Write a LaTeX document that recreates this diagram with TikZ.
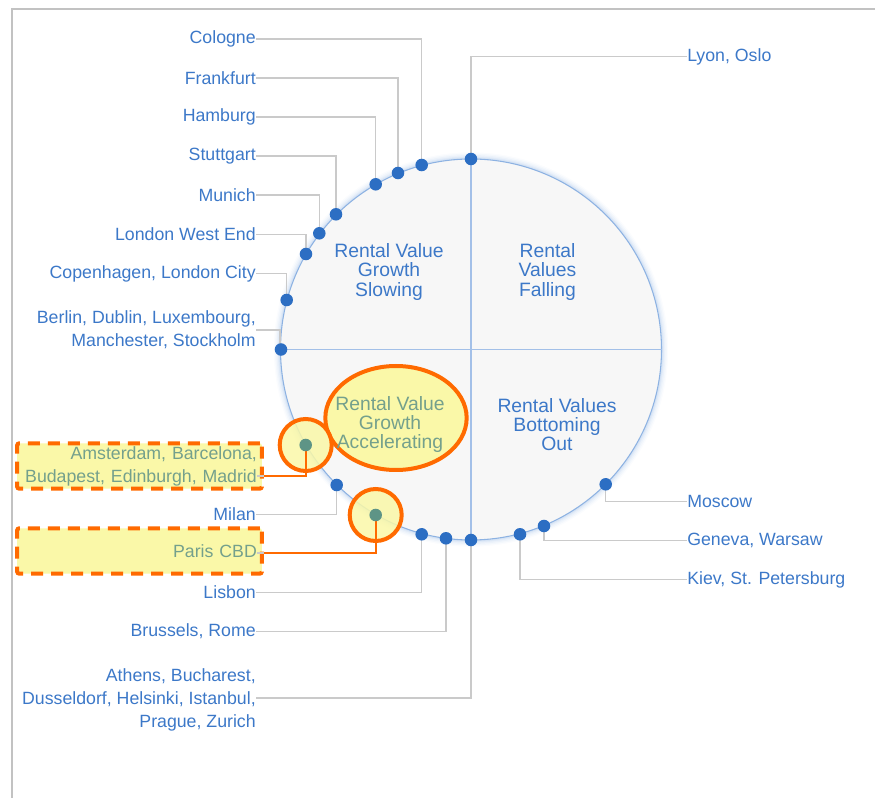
\documentclass[tikz,border=0pt]{standalone}
\usepackage{fontspec}
\setmainfont{Liberation Sans}
\usetikzlibrary{calc,shapes.geometric}
\definecolor{txtblue}{HTML}{3C78C8}
\definecolor{dotblue}{HTML}{2C6EC3}
\definecolor{rimblue}{HTML}{8DB2E2}
\definecolor{crossblue}{HTML}{A3C0E8}
\definecolor{conngray}{HTML}{CACACA}
\definecolor{framegray}{HTML}{C2C2C2}
\definecolor{hlorange}{HTML}{FF6A00}
\definecolor{hlyellow}{HTML}{FAF8A8}
\definecolor{hltext}{HTML}{74A08C}
\definecolor{hldot}{HTML}{5E9486}
\definecolor{discfill}{HTML}{F7F7F7}
\begin{document}
\begin{tikzpicture}[x=0.75pt,y=-0.75pt,
  citylabel/.style={font=\fontsize{13.3}{17.2}\selectfont, text=txtblue, inner sep=0pt, align=right},
  quadlabel/.style={font=\fontsize{14.5}{14.4}\selectfont, text=txtblue, inner sep=0pt, align=center},
  hlbox/.style={draw=hlorange, fill=hlyellow, line width=3pt, dash pattern=on 9pt off 6pt, rounded corners=1.5pt,
    text width=176pt, inner xsep=3.75pt, inner ysep=0pt, minimum height=34pt, align=right,
    font=\fontsize{13.3}{17.2}\selectfont, text=hltext},
  conn/.style={draw=conngray, line width=1.1pt},
  hlconn/.style={draw=hlorange, line width=1.6pt},
  hlring/.style={draw=hlorange, fill=hlyellow, fill opacity=0.85, line width=3pt},
  dotmark/.style={fill=dotblue},
  hldotmark/.style={fill=hldot}]
\useasboundingbox (0,0) rectangle (875,798);
% frame
\draw[framegray, line width=1.5pt] (12,798) -- (12,9.5) -- (875,9.5);
% disc with glow
\coordinate (c) at (471,349.5);
\foreach \w/\o in {10/0.04,8/0.06,6/0.08,4/0.10,2.5/0.14}
  \draw[rimblue, opacity=\o, line width=\w pt] (c) circle[radius=142.875pt];
\draw[rimblue, fill=discfill, line width=0.8pt] (c) circle[radius=142.875pt];
\coordinate (ctop) at (471,159);
\coordinate (cbot) at (471,540);
\coordinate (cleft) at (280.5,349.5);
\coordinate (cright) at (661.5,349.5);
\draw[crossblue, line width=0.8pt] (ctop) -- (cbot);
\draw[crossblue, line width=0.8pt] (cleft) -- (cright);
% quadrant labels
\node[quadlabel] (qSlow) at (389,272) {Rental Value\\Growth\\Slowing};
\node[quadlabel] (qFall) at (547.5,272) {Rental\\Values\\Falling};
\node[quadlabel] (qBot) at (557,424.5) {Rental Values\\Bottoming\\Out};
\node[draw=hlorange, fill=hlyellow, line width=3pt, ellipse, minimum width=106pt, minimum height=78pt, inner sep=0pt] (qEll) at (396,418) {};
\node[quadlabel, text=hltext] (qAcc) at (390,424.5) {Rental Value\\Growth\\Accelerating};
% dot positions
\coordinate (dLyon) at (471,159);
\coordinate (dCologne) at (421.7,165);
\coordinate (dFrankfurt) at (398,173);
\coordinate (dHamburg) at (375.7,184.3);
\coordinate (dStuttgart) at (336,214.3);
\coordinate (dMunich) at (319.3,233.3);
\coordinate (dLWE) at (306,254);
\coordinate (dCopen) at (286.7,300);
\coordinate (dBerlin) at (281,349.5);
\coordinate (dAms) at (305.7,445);
\coordinate (dMilan) at (336.7,485);
\coordinate (dParis) at (375.7,515);
\coordinate (dLisbon) at (421.7,534.3);
\coordinate (dBrussels) at (446,538.3);
\coordinate (dAthens) at (471,540);
\coordinate (dKiev) at (520,534.3);
\coordinate (dGeneva) at (544,526);
\coordinate (dMoscow) at (605.7,484.3);
% labels
\node[citylabel, anchor=west] (lLyon) at (687,56.5) {Lyon, Oslo};
\node[citylabel, anchor=east] (lCologne) at (256,39) {Cologne};
\node[citylabel, anchor=east] (lFrankfurt) at (256,78) {Frankfurt};
\node[citylabel, anchor=east] (lHamburg) at (256,117) {Hamburg};
\node[citylabel, anchor=east] (lStuttgart) at (256,156) {Stuttgart};
\node[citylabel, anchor=east] (lMunich) at (256,195) {Munich};
\node[citylabel, anchor=east] (lLWE) at (256,234.5) {London West End};
\node[citylabel, anchor=east] (lCopen) at (256,273.5) {Copenhagen, London City};
\node[citylabel, anchor=east] (lBerlin) at (256,330) {Berlin, Dublin, Luxembourg,\\Manchester, Stockholm};
\node[hlbox] (lAms) at (139.5,466) {Amsterdam, Barcelona,\\Budapest, Edinburgh, Madrid};
\node[citylabel, anchor=east] (lMilan) at (256,514.5) {Milan};
\node[hlbox] (lParis) at (139.5,551) {Paris CBD};
\node[citylabel, anchor=east] (lLisbon) at (256,592.5) {Lisbon};
\node[citylabel, anchor=east] (lBrussels) at (256,631.5) {Brussels, Rome};
\node[citylabel, anchor=east] (lAthens) at (256,700) {Athens, Bucharest,\\Dusseldorf, Helsinki, Istanbul,\\Prague, Zurich};
\node[citylabel, anchor=west] (lMoscow) at (687,501.5) {Moscow};
\node[citylabel, anchor=west] (lGeneva) at (687,540.5) {Geneva, Warsaw};
\node[citylabel, anchor=west] (lKiev) at (687,579.5) {Kiev, St. Petersburg};
% highlight rings
\draw[hlring] (dAms) circle[radius=19.5pt];
\draw[hlring] (dParis) circle[radius=19.5pt];
% connectors
\draw[conn] (dLyon) |- (lLyon.west);
\draw[conn] (dCologne) |- (lCologne.east);
\draw[conn] (dFrankfurt) |- (lFrankfurt.east);
\draw[conn] (dHamburg) |- (lHamburg.east);
\draw[conn] (dStuttgart) |- (lStuttgart.east);
\draw[conn] (dMunich) |- (lMunich.east);
\draw[conn] (dLWE) |- (lLWE.east);
\draw[conn] (dCopen) |- (lCopen.east);
\draw[conn] (dBerlin) -- ++(-1,0) |- (lBerlin.east);
\draw[conn] (dAms) |- ($(lAms.east)+(-7,10)$);
\draw[hlconn] (dAms) |- ($(lAms.east)+(0,10)$);
\draw[conn] (dMilan) |- (lMilan.east);
\draw[conn] (dParis) |- ($(lParis.east)+(-7,2)$);
\draw[hlconn] (dParis) |- ($(lParis.east)+(0,2)$);
\draw[conn] (dLisbon) |- (lLisbon.east);
\draw[conn] (dBrussels) |- (lBrussels.east);
\draw[conn] (dAthens) |- ($(lAthens.east)+(0,-2)$);
\draw[conn] (dMoscow) |- (lMoscow.west);
\draw[conn] (dGeneva) |- (lGeneva.west);
\draw[conn] (dKiev) |- (lKiev.west);
% dots
\foreach \d in {dLyon,dCologne,dFrankfurt,dHamburg,dStuttgart,dMunich,dLWE,dCopen,dBerlin,dMilan,dLisbon,dBrussels,dAthens,dKiev,dGeneva,dMoscow}
  \fill[dotmark] (\d) circle[radius=4.7pt];
\fill[hldotmark] (dAms) circle[radius=4.7pt];
\fill[hldotmark] (dParis) circle[radius=4.7pt];
\end{tikzpicture}
\end{document}
